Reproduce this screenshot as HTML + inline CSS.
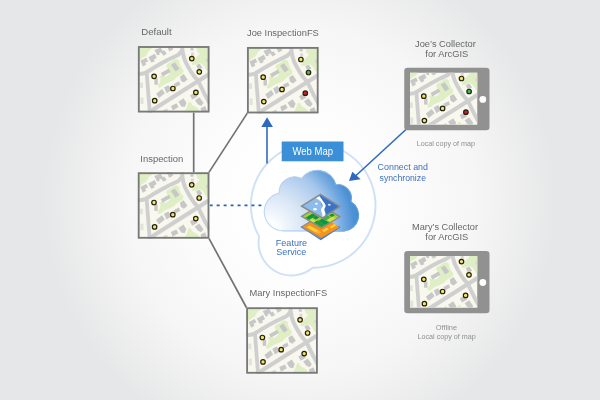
<!DOCTYPE html>
<html><head><meta charset="utf-8"><title>Collector workflow</title>
<style>html,body{margin:0;padding:0;background:#e6e7e8;}body{width:600px;height:400px;overflow:hidden;}svg{display:block;}</style>
</head><body>
<svg width="600" height="400" viewBox="0 0 600 400" font-family="'Liberation Sans', sans-serif">
<defs>
<radialGradient id="bg" gradientUnits="userSpaceOnUse" cx="300" cy="200" r="290">
<stop offset="0" stop-color="#ffffff"/><stop offset="0.3" stop-color="#fdfdfd"/><stop offset="0.6" stop-color="#f6f6f6"/><stop offset="0.68" stop-color="#f2f2f2"/><stop offset="0.885" stop-color="#e6e7e8"/><stop offset="1" stop-color="#e6e7e8"/>
</radialGradient>
<radialGradient id="cl" gradientUnits="userSpaceOnUse" cx="268" cy="230" r="96">
<stop offset="0" stop-color="#ffffff"/><stop offset="0.1" stop-color="#fcfdff"/><stop offset="0.2" stop-color="#eef4fb"/><stop offset="0.35" stop-color="#dce8f6"/><stop offset="0.51" stop-color="#c3d8f1"/><stop offset="0.67" stop-color="#a4c6eb"/><stop offset="0.8" stop-color="#70a7df"/><stop offset="0.9" stop-color="#4d92d5"/><stop offset="1" stop-color="#3f88cf"/>
</radialGradient>
<linearGradient id="cls" gradientUnits="userSpaceOnUse" x1="266" y1="0" x2="361" y2="0">
<stop offset="0" stop-color="#bcd6f3"/><stop offset="0.5" stop-color="#a4c8ee"/><stop offset="1" stop-color="#5c9cd9"/>
</linearGradient>
<filter id="soft" x="0" y="0" width="600" height="400" filterUnits="userSpaceOnUse"><feGaussianBlur stdDeviation="0.4"/></filter>

<clipPath id="tileclip"><rect x="0" y="0" width="71.6" height="66.4"/></clipPath>
<g id="mapbase">
<rect x="0" y="0" width="71.6" height="66.4" fill="#f8f8ef"/>
<g clip-path="url(#tileclip)">
<path d="M0 0 L17.5 0 Q13 3 11 5 Q9.5 8 8.5 9.3 Q6 11 4.2 12 Q2 13.5 1.5 15.5 L0 16 Z" fill="#e0eec5"/>
<path d="M34.6 14.9 Q36 13 37.6 13.1 Q40 13 41.1 14.4 Q42 16 41.6 17.4 L44.1 22.4 Q46 23.5 45.6 24.9 Q45.5 27 44.1 27.9 L41.1 29.4 L38.6 31.4 L36.1 33.9 L32.1 35.9 L27.1 37.9 L23.1 40.9 Q21 42 20.6 41.4 Q19.5 40 20.1 38.9 L22.1 35.9 Q23 33 22.6 31.9 Q21.3 31 21.6 30.4 Q22 29.3 23.1 29.4 L28.1 30.4 Q30 29.5 31.1 28.4 Q32.3 27 32.1 25.4 L29.1 21.4 Q28.3 20 28.6 18.9 Q29.5 17.5 31.1 16.9 Z" fill="#e0eec5"/>
<path d="M57.6 0 L59.6 5.9 Q62 7 61.6 7.9 L58.6 10.9 L54.1 17.4 Q54 18.8 55.1 18.9 L58.6 18.4 Q60.5 17 62.1 16.9 Q64.5 18 66.1 19.9 L68.1 23.9 L72 25.5 L72 0 Z" fill="#e0eec5"/>
<path d="M46.1 66.4 Q48 63 49.1 60.9 L50.6 56.4 Q51.6 55.4 52.6 55.9 L54.6 58.9 L58.1 60.9 L60.6 62.9 L61.5 66.4 Z" fill="#e0eec5"/>
<g fill="none" stroke="#cfcfcf" stroke-linecap="butt" stroke-linejoin="round">
<path d="M-1 28 Q5 27.8 8 26.5 Q12.5 24 17.1 20.9 L24 17 L31.1 13.2 Q36 11 40.1 8.9 Q42.5 7 44.5 4" stroke-width="4"/>
<path d="M44.2 -1 Q44.3 5 45.6 10 Q47 15.5 49.8 20 Q52.5 25 56.1 30 L60.1 34.5 L66.6 47.9 L72.5 58.5" stroke-width="4"/>
<path d="M11 66.2 L20.1 60.4 L59.6 35.4 L73 26.9" stroke-width="4.2"/>
<path d="M8.7 26 L8.9 28 L11.6 62.9 L11.8 67" stroke-width="3.8"/>
</g>
<polygon points="2.52,14.6 8.38,11.61 10.34,15.06 7.35,16.55 8.38,18.51 4.93,20.46" fill="#c7c7c7"/>
<polygon points="10.46,11.21 16.89,7.76 18.85,11.67 15.86,13.63 16.89,15.12 13.45,16.5" fill="#c7c7c7"/>
<polygon points="16.49,3.82 22.82,1.41 25.23,5.32 21.32,7.27 21.78,8.77 19.37,9.23" fill="#c7c7c7"/>
<polygon points="23.01,6.21 26.46,4.25 28.88,7.59 25.54,9.54" fill="#c7c7c7"/>
<polygon points="28.92,-0.31 34.9,-0.31 35.24,3.48 31.34,5.44" fill="#c7c7c7"/>
<polygon points="22.96,26.97 31.01,22.38 32.74,25.82 24.69,30.42" fill="#c7c7c7"/>
<polygon points="33.04,18.62 37.06,16.32 41.66,22.64 37.64,25.52" fill="#c7c7c7"/>
<polygon points="42.19,30.3 45.87,28.0 49.66,33.52 45.98,36.4 42.99,34.67" fill="#c7c7c7"/>
<polygon points="35.86,37.85 41.04,35.21 42.54,38.43 37.36,41.3" fill="#c7c7c7"/>
<polygon points="26.12,41.41 30.49,39.11 33.82,43.93 28.77,47.16" fill="#c7c7c7"/>
<polygon points="18.23,47.62 24.21,43.02 26.97,47.16 21.1,51.99" fill="#c7c7c7"/>
<rect x="16.5" y="32.4" width="3.40" height="6.20" fill="#c7c7c7"/>
<rect x="52.6" y="2" width="3.00" height="2.40" fill="#c7c7c7"/>
<rect x="53.1" y="6.4" width="3.00" height="3.50" fill="#d9d9d6"/>
<polygon points="58.21,19.23 61.66,17.51 64.53,21.53 60.51,23.83" fill="#c7c7c7"/>
<rect x="68.1" y="12.4" width="2.30" height="3.50" fill="#d6d8d0"/>
<polygon points="52.13,49.32 56.73,46.45 59.61,50.48 54.43,53.35" fill="#c7c7c7"/>
<polygon points="57.02,54.14 61.62,51.27 65.64,57.02 63.34,59.89 59.89,58.17" fill="#c7c7c7"/>
<polygon points="40.52,55.7 45.69,52.25 48.56,56.85 46.84,60.88 43.39,60.3" fill="#c7c7c7"/>
<polygon points="33.12,59.8 38.64,57.15 40.59,60.95 34.84,64.4" fill="#c7c7c7"/>
<polygon points="62.71,62.27 67.31,59.96 69.03,64.57 63.86,66.41" fill="#c7c7c7"/>
<polygon points="25.18,64.23 29.21,62.51 30.36,65.61 25.76,66.65" fill="#d6d6d2"/>
<rect x="2.1" y="36.4" width="3.00" height="5.50" fill="#e2e2dd"/>
<rect x="2.6" y="51.4" width="3.00" height="6.50" fill="#e2e2dd"/>
</g>
</g>
<g id="ptsY">
<g fill="#f7e362" stroke="#222010" stroke-width="1.2">
<circle cx="16.2" cy="30.2" r="2.25"/><circle cx="35" cy="42.4" r="2.25"/><circle cx="16.8" cy="54.6" r="2.25"/><circle cx="53.9" cy="12.5" r="2.25"/>
</g></g>
<g id="ptsA"><use href="#ptsY"/>
<g fill="#f7e362" stroke="#222010" stroke-width="1.2"><circle cx="61.4" cy="25.7" r="2.25"/><circle cx="58" cy="46.3" r="2.25"/></g></g>
<g id="ptsJ"><use href="#ptsY"/>
<g stroke="#222010" stroke-width="1.2"><circle cx="61.5" cy="25.5" r="2.25" fill="#3fba45"/><circle cx="58.3" cy="46.2" r="2.25" fill="#d21f2c"/></g></g>

</defs>
<rect width="600" height="400" fill="url(#bg)"/>
<g filter="url(#soft)">
<!-- connectors -->
<g stroke="#727373" stroke-width="1.7" fill="none">
<line x1="193.7" y1="112" x2="193.7" y2="173"/>
<line x1="208.6" y1="172.9" x2="247.8" y2="112.4"/>
<line x1="208.8" y1="238.2" x2="246.7" y2="308"/>
</g>
<!-- big cloud outline -->
<path d="M259.1 236.4 A62.3 62.3 0 1 1 312.7 267.8 A33 33 0 0 1 259.1 236.4 Z" fill="#ffffff" stroke="#d0e0f4" stroke-width="1.9" stroke-linejoin="round"/>
<!-- dotted -->
<line x1="209.7" y1="205.3" x2="267.4" y2="205.3" stroke="#2b63b6" stroke-width="1.7" stroke-dasharray="3 3.96"/>
<!-- tiles -->
<g transform="translate(137.9,46.1)"><use href="#mapbase"/><use href="#ptsA"/>
<rect x="0.9" y="0.9" width="69.8" height="64.6" fill="none" stroke="#787979" stroke-width="1.85"/></g>
<g transform="translate(247,47)"><use href="#mapbase"/><use href="#ptsJ"/>
<rect x="0.9" y="0.9" width="69.8" height="64.6" fill="none" stroke="#787979" stroke-width="1.85"/></g>
<g transform="translate(137.8,172.3)"><use href="#mapbase"/><use href="#ptsA"/>
<rect x="0.9" y="0.9" width="69.8" height="64.6" fill="none" stroke="#787979" stroke-width="1.85"/></g>
<g transform="translate(246.2,307.3)"><use href="#mapbase"/><use href="#ptsA"/>
<rect x="0.9" y="0.9" width="69.8" height="64.6" fill="none" stroke="#787979" stroke-width="1.85"/></g>
<!-- arrows -->
<line x1="267" y1="163.5" x2="267" y2="126" stroke="#2f6bbd" stroke-width="1.6"/>
<path d="M267.1 117.3 L272.9 127 L261.3 127 Z" fill="#2f6bbd"/>
<line x1="406.5" y1="129" x2="355.5" y2="176" stroke="#2f6bbd" stroke-width="1.6"/>
<path d="M349 181 L352.3 171.8 L360.7 179.2 Z" fill="#2f6bbd"/>
<!-- web map -->
<rect x="281.7" y="141.5" width="61.8" height="19.8" fill="#3a8fd6"/>
<text x="292.5" y="155.2" font-size="10" fill="#ffffff" text-anchor="start" textLength="40.6" lengthAdjust="spacingAndGlyphs">Web Map</text>
<!-- cloud -->
<path d="M284.2 230.9 A19.2 19.2 0 0 1 279.2 193 A15.3 15.3 0 0 1 301.5 178.6 A19.3 19.3 0 0 1 336 184.7 A13.6 13.6 0 0 1 351 201.6 A16 16 0 0 1 344 231.2 Z" fill="url(#cl)" stroke="url(#cls)" stroke-width="1.1" stroke-linejoin="round"/>
<!-- layers icon -->
<polygon points="300.90000000000003,227.3 320.8,240.2 340.3,227.6 339.6,226.2 301.6,225.9" fill="#3f7fcc"/>
<polygon points="301.6,226.9 321,215 339.6,227.2 320.8,238.2" fill="#f7931e" stroke="none" stroke-width="0" stroke-linejoin="miter"/>
<polygon points="306.81,227.17 315.83,232.48 318.74,230.69 309.72,225.38" fill="#fdd13a"/>
<polygon points="315.83,232.48 318.52,234.06 321.43,232.28 318.74,230.69" fill="#fbb03b"/>
<polygon points="322.02,230.53 324.33,231.88 328.98,229.03 326.68,227.67" fill="#fdd13a"/>
<polygon points="329.39,226.93 331.69,228.29 336.54,225.31 334.24,223.96" fill="#fdd13a"/>
<polyline points="320.8,238.2 301.6,226.9 321,215" fill="none" stroke="#8d8e8f" stroke-width="1.4"/>
<polygon points="301.6,216.3 321,204.6 339.8,216.8 321.4,228" fill="#a6ce39" stroke="#8a8b8c" stroke-width="1.5" stroke-linejoin="miter"/>
<polygon points="305.54,217.70 309.11,219.81 316.09,215.60 312.53,213.49" fill="#0d9444"/>
<polygon points="312.60,217.70 315.77,219.58 319.26,217.47 316.09,215.60" fill="#0d9444"/>
<polygon points="309.90,220.28 313.46,222.38 315.79,220.98 312.23,218.87" fill="#d7e04a"/>
<polygon points="313.86,222.62 321.38,227.06 324.88,224.96 317.35,220.51" fill="#1a9a46"/>
<polygon points="318.14,220.98 324.88,224.96 329.14,222.38 322.41,218.41" fill="#0d9444"/>
<polygon points="322.41,218.41 325.98,220.51 331.02,217.47 327.46,215.36" fill="#3fae49"/>
<polygon points="327.14,219.81 330.31,221.68 335.74,218.41 332.57,216.53" fill="#d7e04a"/>
<polygon points="329.02,215.36 331.80,217.00 334.90,215.13 332.13,213.49" fill="#0d9444"/>
<polygon points="301.6,206.1 320.5,194.3 339.8,206.4 322.4,218" fill="#8dbcea" stroke="#8a8b8c" stroke-width="1.5" stroke-linejoin="miter"/>
<path d="M320.6 195.2 L338.6 206.4 L324.6 215.8 L322 206 L319 196.6 Z" fill="#3a72c5"/>
<path d="M315.8 198.4 C318 199 319.8 200.2 320.6 201.6 C321.6 203.2 322.6 204.4 322.6 206 C322.6 207.6 320.8 208.6 321 210.2 C321.2 212 322.8 213 322.4 217 L325.4 215 C326 212.6 324.6 211.4 324.4 210 C324.2 208.4 325.8 207.4 325.6 205.6 C325.4 203.8 324 202.8 323 201.2 C322 199.6 321 198 319.4 196.2 Z" fill="#ffffff"/>
<ellipse cx="315" cy="209.2" rx="1.8" ry="1.25" fill="#fff"/><ellipse cx="316.4" cy="203.8" rx="1.4" ry="1" fill="#fff"/><ellipse cx="329.3" cy="204.8" rx="1.5" ry="1.05" fill="#cfe0f5"/>
<!-- tablets -->
<rect x="404.25" y="67.75" width="85.25" height="62.5" rx="3.3" fill="#919191"/>
<clipPath id="c1"><rect x="410" y="72.75" width="67.25" height="52"/></clipPath>
<g clip-path="url(#c1)"><g transform="translate(407.6,66.0)"><use href="#mapbase"/><use href="#ptsJ"/></g></g>
<circle cx="482.8" cy="99.4" r="3.4" fill="#fcfcfc"/>
<rect x="404.25" y="251" width="85.25" height="62.25" rx="3.3" fill="#919191"/>
<clipPath id="c2"><rect x="410" y="256" width="67.25" height="51.75"/></clipPath>
<g clip-path="url(#c2)"><g transform="translate(407.6,249.1)"><use href="#mapbase"/><use href="#ptsA"/></g></g>
<circle cx="482.8" cy="282.5" r="3.4" fill="#fcfcfc"/>
<!-- labels -->
<text x="141.2" y="35" font-size="9.6" fill="#66676a" text-anchor="start" textLength="30.5" lengthAdjust="spacingAndGlyphs">Default</text>
<text x="247" y="36.2" font-size="9.6" fill="#66676a" text-anchor="start" textLength="71.8" lengthAdjust="spacingAndGlyphs">Joe InspectionFS</text>
<text x="140.3" y="161.7" font-size="9.6" fill="#66676a" text-anchor="start" textLength="43" lengthAdjust="spacingAndGlyphs">Inspection</text>
<text x="249.5" y="296.3" font-size="9.6" fill="#66676a" text-anchor="start" textLength="77.7" lengthAdjust="spacingAndGlyphs">Mary InspectionFS</text>
<text x="415" y="46.7" font-size="9.6" fill="#66676a" text-anchor="start" textLength="60.8" lengthAdjust="spacingAndGlyphs">Joe’s Collector</text>
<text x="425.3" y="57.2" font-size="9.6" fill="#66676a" text-anchor="start" textLength="43" lengthAdjust="spacingAndGlyphs">for ArcGIS</text>
<text x="412" y="229.5" font-size="9.6" fill="#66676a" text-anchor="start" textLength="66" lengthAdjust="spacingAndGlyphs">Mary’s Collector</text>
<text x="425.3" y="240.3" font-size="9.6" fill="#66676a" text-anchor="start" textLength="43" lengthAdjust="spacingAndGlyphs">for ArcGIS</text>
<text x="416.7" y="145.5" font-size="7.3" fill="#8f9092" text-anchor="start" textLength="58.3" lengthAdjust="spacingAndGlyphs">Local copy of map</text>
<text x="435.8" y="330.3" font-size="7.3" fill="#8f9092" text-anchor="start" textLength="21.2" lengthAdjust="spacingAndGlyphs">Offline</text>
<text x="417.5" y="338.7" font-size="7.3" fill="#8f9092" text-anchor="start" textLength="58.3" lengthAdjust="spacingAndGlyphs">Local copy of map</text>
<text x="377.6" y="170" font-size="9.6" fill="#3f70c0" text-anchor="start" textLength="50.4" lengthAdjust="spacingAndGlyphs">Connect and</text>
<text x="379.6" y="180.6" font-size="9.6" fill="#3f70c0" text-anchor="start" textLength="46.4" lengthAdjust="spacingAndGlyphs">synchronize</text>
<text x="275.8" y="245.5" font-size="9.6" fill="#3b6fc0" text-anchor="start" textLength="31.2" lengthAdjust="spacingAndGlyphs">Feature</text>
<text x="276.2" y="255" font-size="9.6" fill="#3b6fc0" text-anchor="start" textLength="30" lengthAdjust="spacingAndGlyphs">Service</text>
</g>
</svg>
</body></html>
